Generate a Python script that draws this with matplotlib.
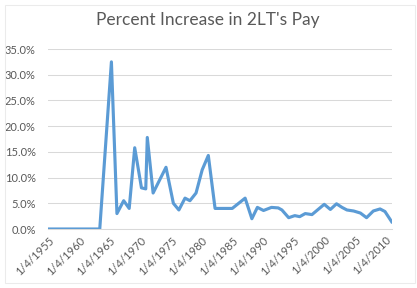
import matplotlib
matplotlib.use("Agg")
import matplotlib.pyplot as plt
from matplotlib.patches import Rectangle
from matplotlib.ticker import FuncFormatter

plt.rcParams['font.family'] = ['Lato', 'DejaVu Sans']

title = "Percent Increase in 2LT's Pay"

# effective dates (decimal years) and percent increase
years = [1955.01, 1956, 1957, 1958, 1959, 1960, 1961, 1962, 1963, 1963.4,
         1965.3, 1966.2, 1967.3, 1968.2, 1969.1, 1970.2, 1970.9, 1971.15,
         1972.1, 1974.2, 1975.4, 1976.3, 1977.3, 1978.1, 1979.1, 1980.1,
         1981.1, 1982.2, 1983, 1984, 1985.0, 1987.1, 1988.2, 1989.1, 1990.1,
         1991.4, 1992.5, 1993.1, 1994.2, 1995.2, 1996.0, 1996.9, 1998.0,
         1998.8, 2000.0, 2001.0, 2002.0, 2002.9, 2003.7, 2004.8, 2005.9,
         2006.9, 2008.0, 2009.1, 2009.9, 2011.0]
pct = [0.0, 0.0, 0.0, 0.0, 0.0, 0.0, 0.0, 0.0, 0.0, 0.0,
       32.5, 3.0, 5.5, 4.0, 15.8, 8.0, 7.8, 17.8,
       7.0, 12.0, 5.0, 3.7, 6.0, 5.5, 7.0, 11.5,
       14.3, 4.0, 4.0, 4.0, 4.0, 6.0, 2.0, 4.2, 3.6,
       4.2, 4.1, 3.7, 2.2, 2.6, 2.4, 3.0, 2.8,
       3.6, 4.8, 3.8, 4.9, 4.2, 3.7, 3.5, 3.1,
       2.2, 3.5, 3.9, 3.4, 1.4]

tick_years = [1955, 1960, 1965, 1970, 1975, 1980, 1985, 1990, 1995, 2000, 2005, 2010]
tick_labels = [f"1/4/{y}" for y in tick_years]
y_ticks = [0, 5, 10, 15, 20, 25, 30, 35]

W, H = 417, 288
fig = plt.figure(figsize=(W / 100, H / 100), dpi=100)
ax = fig.add_axes([48.3 / W, (H - 229) / H, (391.7 - 48.3) / W, (229 - 49) / H])

ax.plot(years, pct, color='#5B9BD5', lw=2.25, solid_joinstyle='round', zorder=3)

ax.set_xlim(1955.01, 2011.0)
ax.set_ylim(0, 35)
ax.set_yticks(y_ticks)
ax.yaxis.set_major_formatter(FuncFormatter(lambda v, p: f"{v:.1f}%"))
ax.set_xticks([y + 0.01 for y in tick_years])
ax.set_xticklabels(tick_labels, rotation=45, ha='right', va='top',
                   rotation_mode='anchor')

ax.grid(axis='y', color='#D9D9D9', lw=0.75, zorder=0)
for s in ['top', 'right', 'left']:
    ax.spines[s].set_visible(False)
ax.spines['bottom'].set_color('#D9D9D9')
ax.spines['bottom'].set_linewidth(0.75)
ax.tick_params(axis='y', length=0, pad=9, labelsize=8, labelcolor='#595959')
ax.tick_params(axis='x', length=0, pad=4, labelsize=8, labelcolor='#595959')

fig.text(208 / W, 1 - 20 / H, title, ha='center', va='center',
         fontsize=12.5, color='#595959')

fig.patches.append(Rectangle((5 / W, 5 / H), 410 / W, 278 / H,
                             transform=fig.transFigure, fill=False,
                             edgecolor='#EBEBEB', lw=0.75))

fig.savefig('out.png', dpi=100)
